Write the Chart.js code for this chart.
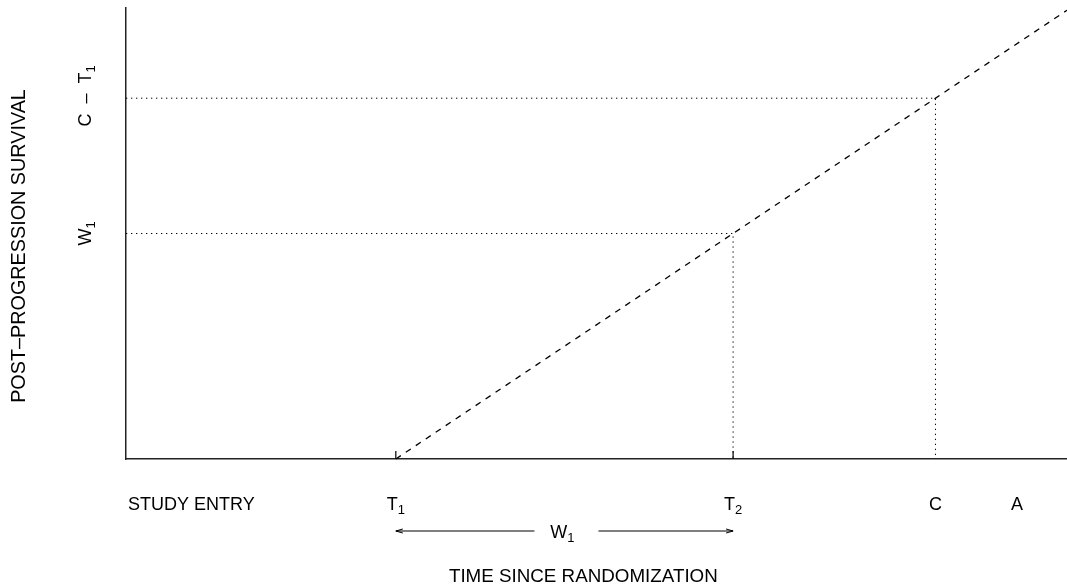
<!DOCTYPE html>
<html>
<head>
<meta charset="utf-8">
<script src="https://cdn.jsdelivr.net/npm/chart.js@4/dist/chart.umd.min.js"></script>
<style>
  html, body { margin: 0; padding: 0; background: #fff; }
  canvas { display: block; }
</style>
</head>
<body>
<canvas id="chart" width="1067" height="588"></canvas>
<script>
  // time axis (x) and survival axis (y), in the same units
  const xMax = 13.95;
  const yMax = 10;

  // labels under the time axis
  const xLabelText = ['STUDY ENTRY', 'T', 'T', 'C', 'A'];
  const xLabelSub = ['', '1', '2', '', ''];
  const xLabelPos = [0.97, 4, 9, 12, 13.21];

  // labels beside the survival axis
  const yLabelText = ['W', 'C  \u2013  T'];
  const yLabelSub = ['1', '1'];
  const yLabelPos = [5, 8.05];

  // post-progression survival line starting at T1
  const survX = [4, 13.95];
  const survY = [0, 9.95];

  // reference points (T2, W1) and (C, C - T1)
  const guideX = [9, 12];
  const guideY = [5, 8];

  // inward ticks on the time axis
  const tickX = [4, 9];
  const tickLen = 0.18;

  // W1 interval arrow
  const arrowFrom = 4;
  const arrowTo = 9;

  const FONT = '"Liberation Sans", Arial, Helvetica, sans-serif';

  const pts = (xs, ys) => xs.map((x, i) => ({ x: x, y: ys[i] }));

  const datasets = [];
  datasets.push({
    data: pts(survX, survY),
    borderColor: '#000', borderWidth: 1.3, borderDash: [6, 6]
  });
  guideX.forEach((gx, i) => {
    datasets.push({
      data: pts([0, gx, gx], [guideY[i], guideY[i], 0]),
      borderColor: '#000', borderWidth: 1, borderDash: [1.3, 3.7]
    });
  });
  tickX.forEach((tx) => {
    datasets.push({
      data: pts([tx, tx], [0, tickLen]),
      borderColor: '#000', borderWidth: 1.2
    });
  });
  datasets.forEach((d) => {
    d.showLine = true; d.pointRadius = 0; d.fill = false; d.clip = false;
  });

  function drawSub(ctx, base, sub, x, y) {
    ctx.font = '18px ' + FONT;
    const wb = ctx.measureText(base).width;
    ctx.font = '13px ' + FONT;
    const ws = sub ? ctx.measureText(sub).width : 0;
    const start = x - (wb + ws) / 2;
    ctx.textAlign = 'left';
    ctx.textBaseline = 'alphabetic';
    ctx.font = '18px ' + FONT;
    ctx.fillText(base, start, y);
    if (sub) {
      ctx.font = '13px ' + FONT;
      ctx.fillText(sub, start + wb, y + 4);
    }
  }

  function arrowHead(ctx, x, y, dir) {
    ctx.beginPath();
    ctx.moveTo(x + dir * 7, y - 2);
    ctx.lineTo(x, y);
    ctx.lineTo(x + dir * 7, y + 2);
    ctx.stroke();
  }

  const annotations = {
    id: 'annotations',
    afterDraw(chart) {
      const ctx = chart.ctx;
      const xs = chart.scales.x;
      const ys = chart.scales.y;
      ctx.save();
      ctx.fillStyle = '#000';
      ctx.strokeStyle = '#000';

      xLabelText.forEach((t, i) => {
        drawSub(ctx, t, xLabelSub[i], xs.getPixelForValue(xLabelPos[i]), 510);
      });

      yLabelText.forEach((t, i) => {
        ctx.save();
        ctx.translate(91, ys.getPixelForValue(yLabelPos[i]));
        ctx.rotate(-Math.PI / 2);
        drawSub(ctx, t, yLabelSub[i], 0, 0);
        ctx.restore();
      });

      // W1 arrow
      const a = xs.getPixelForValue(arrowFrom);
      const b = xs.getPixelForValue(arrowTo);
      const mid = (a + b) / 2;
      const ay = 531;
      ctx.lineWidth = 1;
      ctx.beginPath();
      ctx.moveTo(mid - 30, ay); ctx.lineTo(a, ay);
      ctx.moveTo(mid + 34, ay); ctx.lineTo(b, ay);
      ctx.stroke();
      arrowHead(ctx, a, ay, 1);
      arrowHead(ctx, b, ay, -1);
      drawSub(ctx, 'W', '1', mid - 2, 538);

      // axis titles
      ctx.textAlign = 'center';
      ctx.textBaseline = 'alphabetic';
      ctx.font = '18.8px ' + FONT;
      ctx.fillText('TIME SINCE RANDOMIZATION', xs.getPixelForValue(6.78), 582);
      ctx.save();
      ctx.translate(25, 246);
      ctx.rotate(-Math.PI / 2);
      ctx.font = '19.8px ' + FONT;
      ctx.fillText('POST\u2013PROGRESSION SURVIVAL', 0, 0);
      ctx.restore();

      ctx.restore();
    }
  };

  new Chart(document.getElementById('chart'), {
    type: 'scatter',
    data: { datasets: datasets },
    options: {
      responsive: false,
      animation: false,
      devicePixelRatio: 1,
      layout: { padding: { left: 126, top: 8, right: 0, bottom: 129 } },
      plugins: { legend: { display: false }, tooltip: { enabled: false } },
      scales: {
        x: {
          type: 'linear', min: 0, max: xMax,
          grid: { display: false, drawTicks: false },
          ticks: { display: false },
          border: { display: true, color: '#222', width: 1.5 },
          afterFit(s) { s.height = 0; }
        },
        y: {
          type: 'linear', min: 0, max: yMax,
          grid: { display: false, drawTicks: false },
          ticks: { display: false },
          border: { display: true, color: '#222', width: 1.5 },
          afterFit(s) { s.width = 0; }
        }
      }
    },
    plugins: [annotations]
  });
</script>
</body>
</html>
